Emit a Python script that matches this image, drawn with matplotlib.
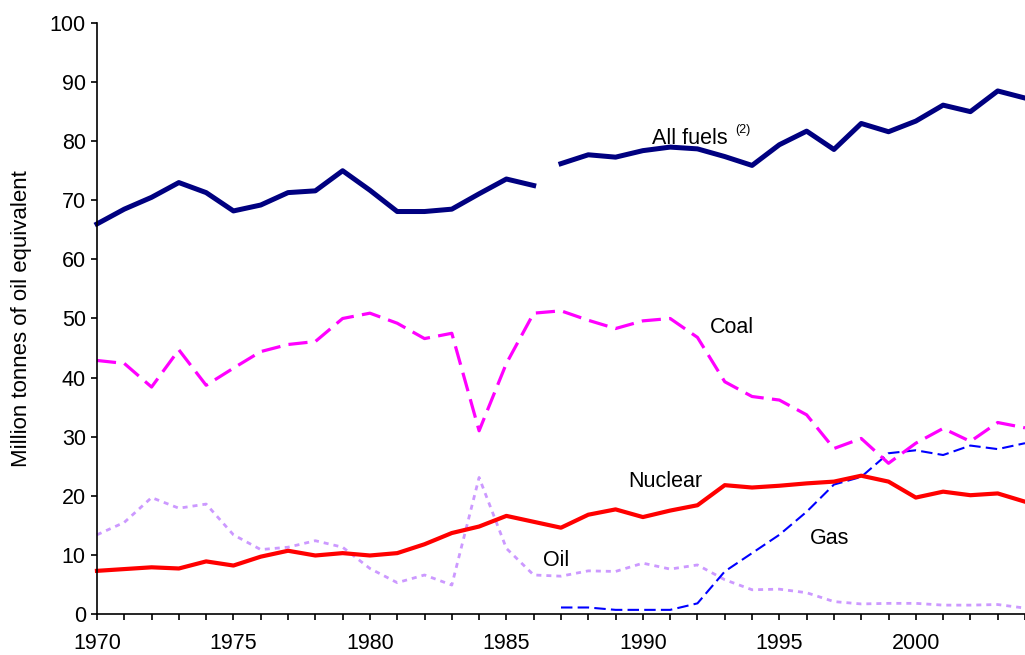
import matplotlib.pyplot as plt
from matplotlib.ticker import MultipleLocator

plt.rcParams['font.family'] = ['Liberation Sans', 'DejaVu Sans']

years = list(range(1970, 2005))
years_gas = list(range(1987, 2005))

# Million tonnes of oil equivalent
all_fuels = [66.0, 68.5, 70.5, 73.0, 71.3, 68.2, 69.2, 71.3, 71.6, 75.0,
             71.7, 68.1, 68.1, 68.5, 71.1, 73.6, 72.5,
             76.2, 77.7, 77.3, 78.4, 79.0, 78.7, 77.4, 75.9, 79.4, 81.7,
             78.6, 83.0, 81.6, 83.4, 86.1, 85.0, 88.5, 87.3]
coal = [42.9, 42.4, 38.4, 44.7, 38.7, 41.6, 44.4, 45.6, 46.1, 50.0,
        50.9, 49.2, 46.6, 47.5, 31.0, 42.4, 50.9,
        51.3, 49.7, 48.3, 49.6, 50.0, 46.8, 39.3, 36.8, 36.2, 33.7,
        28.0, 29.7, 25.5, 28.9, 31.4, 29.2, 32.4, 31.5]
nuclear = [7.3, 7.6, 7.9, 7.7, 8.9, 8.2, 9.7, 10.7, 9.9, 10.3,
           9.9, 10.3, 11.8, 13.7, 14.8, 16.6, 15.6,
           14.6, 16.8, 17.7, 16.4, 17.5, 18.4, 21.8, 21.4, 21.7, 22.1,
           22.4, 23.4, 22.4, 19.7, 20.7, 20.1, 20.4, 19.0]
oil = [13.4, 15.5, 19.7, 17.9, 18.6, 13.4, 10.9, 11.3, 12.4, 11.3,
       7.7, 5.3, 6.6, 4.9, 23.1, 11.1, 6.6,
       6.4, 7.3, 7.2, 8.6, 7.6, 8.3, 5.8, 4.1, 4.2, 3.6,
       2.1, 1.7, 1.8, 1.8, 1.5, 1.5, 1.6, 1.0]
gas = [1.1, 1.1, 0.7, 0.7, 0.7, 1.8, 7.2, 10.3, 13.4, 17.3,
       21.9, 23.2, 27.2, 27.7, 26.9, 28.5, 27.9, 28.9]

fig = plt.figure(figsize=(10.25, 6.55), dpi=100)
ax = fig.add_axes([0.0946, 0.0626, 0.9054, 0.9023])

ax.plot(years, oil, color='#CC99FF', lw=2.0, dashes=(1.8, 1.8), clip_on=False)
ax.plot(years_gas, gas, color='#0000FF', lw=1.5, dashes=(5.5, 2.5), clip_on=False)
ax.plot(years, coal, color='#FF00FF', lw=2.3, dashes=(6, 2.6), clip_on=False)
ax.plot(years, nuclear, color='#FF0000', lw=3.0, clip_on=False)
# break in the all fuels series between 1986 and 1987
ax.plot(years[:17], all_fuels[:17], color='#000080', lw=3.6, clip_on=False)
ax.plot(years[17:], all_fuels[17:], color='#000080', lw=3.6, clip_on=False)

lab = dict(fontsize=15.5, va='baseline', ha='left')
ax.text(1990.33, 79.6, 'All fuels', **lab)
ax.text(1993.37, 81.4, '(2)', fontsize=9, va='baseline', ha='left')
ax.text(1992.45, 47.5, 'Coal', **lab)
ax.text(1989.45, 21.5, 'Nuclear', **lab)
ax.text(1996.12, 11.8, 'Gas', **lab)
ax.text(1986.34, 8.1, 'Oil', **lab)

ax.set_xlim(1970, 2004)
ax.set_ylim(0, 100)
ax.xaxis.set_major_locator(MultipleLocator(5))
ax.xaxis.set_minor_locator(MultipleLocator(1))
ax.yaxis.set_major_locator(MultipleLocator(10))
ax.tick_params(axis='both', which='both', direction='out', length=4.5, width=1.2,
               labelsize=15.5)
ax.tick_params(axis='x', pad=9)
ax.tick_params(axis='y', pad=3.5)
ax.spines['top'].set_visible(False)
ax.spines['right'].set_visible(False)
ax.spines['left'].set_linewidth(1.2)
ax.spines['bottom'].set_linewidth(1.2)
ax.set_ylabel('Million tonnes of oil equivalent', fontsize=16)
ax.yaxis.set_label_coords(-0.07, 0.5)

fig.savefig('out.png', dpi=100)
